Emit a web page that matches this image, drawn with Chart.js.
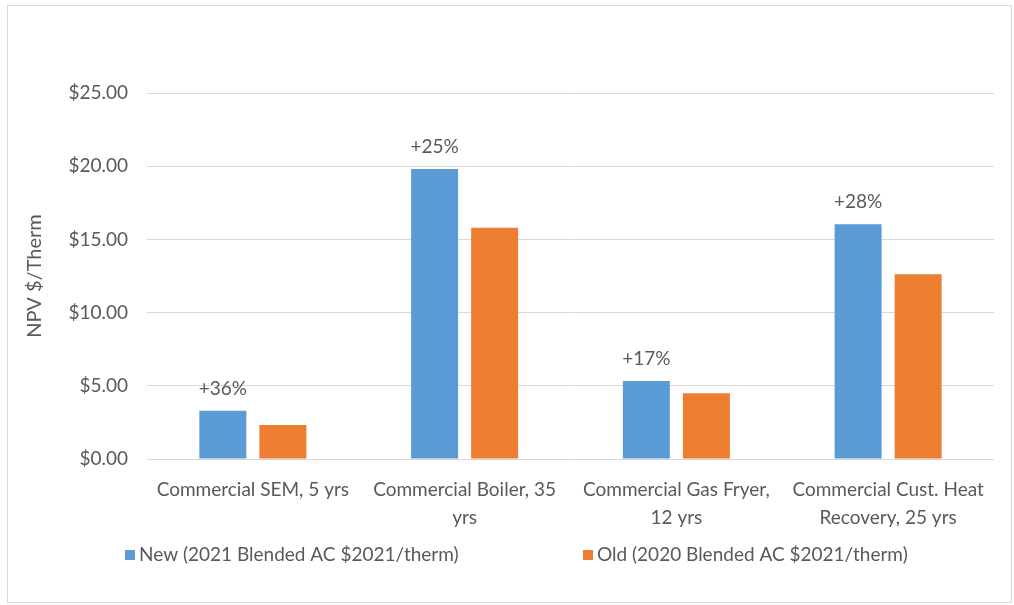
<!DOCTYPE html>
<html>
<head>
<meta charset="utf-8">
<script src="https://cdn.jsdelivr.net/npm/chart.js@4.4.1/dist/chart.umd.min.js"></script>
<style>
  html, body { margin: 0; padding: 0; background: #ffffff; }
  #wrap { position: relative; width: 1014px; height: 605px; }
</style>
</head>
<body>
<div id="wrap"><canvas id="c" width="1014" height="605"></canvas></div>
<script>
// Measure categories (multi-line axis labels)
const categories = [
  ['Commercial SEM, 5 yrs'],
  ['Commercial Boiler, 35', 'yrs'],
  ['Commercial Gas Fryer,', '12 yrs'],
  ['Commercial Cust. Heat', 'Recovery, 25 yrs']
];
// NPV $/therm per measure
const newValues = [3.30, 19.81, 5.33, 16.03];
const oldValues = [2.32, 15.80, 4.49, 12.62];
// Increase of new over old, shown above each "new" bar
const changeLabels = ['+36%', '+25%', '+17%', '+28%'];
const seriesNames = ['New (2021 Blended AC $2021/therm)', 'Old (2020 Blended AC $2021/therm)'];
const yAxisTitle = 'NPV $/Therm';

const FONT = 'Lato, "Open Sans", sans-serif';
const TEXT = '#595959';
const GRID = '#D9D9D9';
const BLUE = '#5B9BD5';
const ORANGE = '#ED7D31';

// Percent labels above the first series
const changeLabelPlugin = {
  id: 'changeLabels',
  afterDatasetsDraw(chart) {
    const ctx = chart.ctx;
    const meta = chart.getDatasetMeta(0);
    ctx.save();
    ctx.font = '19px ' + FONT;
    ctx.fillStyle = TEXT;
    ctx.textAlign = 'center';
    ctx.textBaseline = 'middle';
    meta.data.forEach((bar, i) => {
      ctx.fillText(changeLabels[i], bar.x, bar.y - 22);
    });
    ctx.restore();
  }
};

// Bottom legend spread across the chart width, plus the outer frame
const frameLegendPlugin = {
  id: 'frameLegend',
  afterDraw(chart) {
    const ctx = chart.ctx;
    ctx.save();
    ctx.strokeStyle = GRID;
    ctx.lineWidth = 1;
    ctx.strokeRect(7.5, 5.5, 1004, 597);

    const items = [
      { x: 125, color: chart.data.datasets[0].backgroundColor, text: chart.data.datasets[0].label },
      { x: 583, color: chart.data.datasets[1].backgroundColor, text: chart.data.datasets[1].label }
    ];
    const y = 555;
    ctx.font = '19px ' + FONT;
    ctx.textBaseline = 'middle';
    ctx.textAlign = 'left';
    items.forEach(it => {
      ctx.fillStyle = it.color;
      ctx.fillRect(it.x, y - 5, 10, 10);
      ctx.fillStyle = TEXT;
      ctx.fillText(it.text, it.x + 14, y);
    });
    ctx.restore();
  }
};

new Chart(document.getElementById('c'), {
  type: 'bar',
  data: {
    labels: categories,
    datasets: [
      { label: seriesNames[0], data: newValues, backgroundColor: BLUE,
        categoryPercentage: 0.567, barPercentage: 0.783 },
      { label: seriesNames[1], data: oldValues, backgroundColor: ORANGE,
        categoryPercentage: 0.567, barPercentage: 0.783 }
    ]
  },
  options: {
    responsive: false,
    animation: false,
    devicePixelRatio: 1,
    layout: { padding: { top: 93, right: 20, bottom: 56, left: 0 } },
    plugins: {
      legend: { display: false },
      tooltip: { enabled: false }
    },
    scales: {
      x: {
        grid: { display: false },
        border: { display: false },
        ticks: {
          color: TEXT,
          font: { family: FONT, size: 19, lineHeight: 28 / 19 },
          padding: 9,
          maxRotation: 0,
          autoSkip: false
        },
        afterFit(scale) { scale.height = 90; }
      },
      y: {
        min: 0,
        max: 25,
        grid: { color: GRID, lineWidth: 1, drawTicks: false },
        border: { display: false },
        ticks: {
          stepSize: 5,
          color: TEXT,
          font: { family: FONT, size: 19 },
          padding: 19,
          callback: v => '$' + Number(v).toFixed(2)
        },
        title: {
          display: true,
          text: yAxisTitle,
          color: TEXT,
          font: { family: FONT, size: 20 },
          padding: { top: 23, bottom: 0 }
        },
        afterFit(scale) { scale.width = 147; }
      }
    }
  },
  plugins: [changeLabelPlugin, frameLegendPlugin]
});
</script>
</body>
</html>
